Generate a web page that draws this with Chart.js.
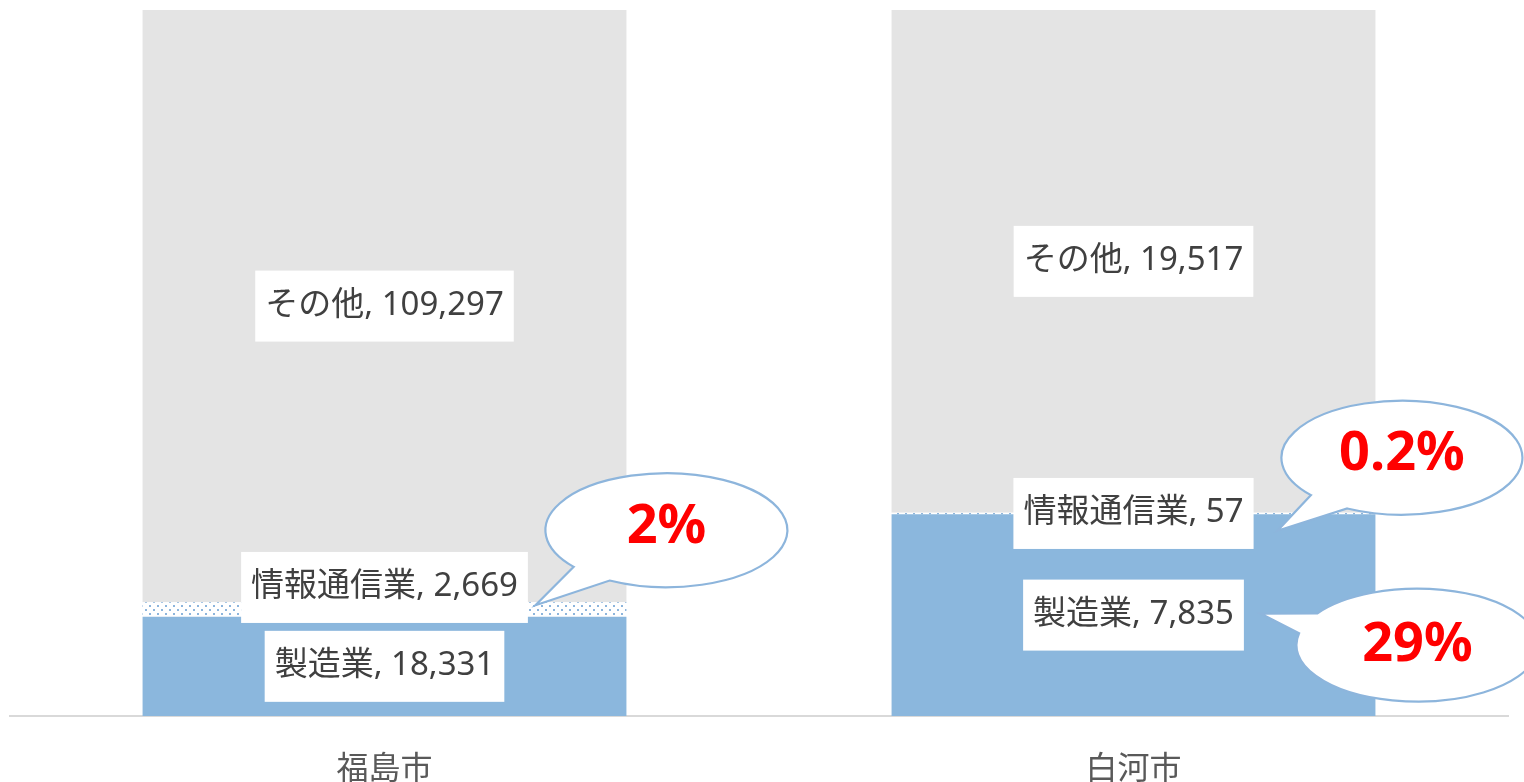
<!DOCTYPE html>
<html lang="ja">
<head>
<meta charset="utf-8">
<title>製造業・情報通信業の構成比</title>
<script src="https://cdn.jsdelivr.net/npm/chart.js@4.4.0/dist/chart.umd.min.js"></script>
<style>
    html, body { margin: 0; padding: 0; background: #ffffff; overflow: hidden; }
    #wrap { width: 1524px; height: 782px; }
</style>
</head>
<body>
<div id="wrap"><canvas id="chart" width="1524" height="782"></canvas></div>
<script>
    // Data
    var cities = ["福島市", "白河市"];
    var seriesNames = ["製造業", "情報通信業", "その他"];
    var manufacturing = [18331, 7835];
    var ict = [2669, 57];
    var others = [109297, 19517];
    var calloutTexts = ["2%", "0.2%", "29%"];

    var BLUE = "#8bb7dd";
    var GRAY = "#e4e4e4";
    var LINE = "#8db5dc";
    var LABEL_FONT = '33px "Noto Sans", "Noto Sans CJK JP", sans-serif';

    var totals = cities.map(function (c, i) {
        return manufacturing[i] + ict[i] + others[i];
    });
    function share(arr) {
        return arr.map(function (v, i) { return v / totals[i] * 100; });
    }

    // dotted fill for 情報通信業
    function dotPattern() {
        var p = document.createElement("canvas");
        p.width = 8;
        p.height = 8;
        var c = p.getContext("2d");
        c.fillStyle = "#ffffff";
        c.fillRect(0, 0, 8, 8);
        c.fillStyle = LINE;
        c.fillRect(1, 1, 2, 2);
        c.fillRect(5, 5, 2, 2);
        return c.createPattern(p, "repeat");
    }

    // Value labels in white boxes
    var labelPlugin = {
        id: "boxLabels",
        afterDatasetsDraw: function (chart) {
            var ctx = chart.ctx;
            ctx.save();
            ctx.font = LABEL_FONT;
            ctx.textAlign = "center";
            ctx.textBaseline = "alphabetic";
            chart.data.datasets.forEach(function (ds, di) {
                var meta = chart.getDatasetMeta(di);
                meta.data.forEach(function (el, i) {
                    var cy = (el.y + el.base) / 2;
                    // 福島市の情報通信業は少し上へずらす
                    if (di === 1 && i === 0) cy -= 22;
                    var txt = ds.label + ", " + ds.raw[i].toLocaleString("en-US");
                    var w = ctx.measureText(txt).width + 20;
                    var h = 71;
                    ctx.fillStyle = "#ffffff";
                    ctx.fillRect(el.x - w / 2, cy - h / 2, w, h);
                    ctx.fillStyle = "#404040";
                    ctx.fillText(txt, el.x, cy + 9);
                });
            });
            ctx.restore();
        }
    };

    // Speech bubbles with the shares
    var calloutSpecs = [
        {ds: 1, idx: 0, edge: "top", tip: [-91, 3], c: [40, -72], r: [121, 57], a: [118, 140], ty: 12.5},
        {ds: 1, idx: 1, edge: "top", tip: [-98, 18], c: [26.5, -55], r: [120.5, 57], a: [117, 139], ty: 12},
        {ds: 0, idx: 1, edge: "mid", tip: [-115, -1.5], c: [42, 30], r: [121, 56.5], a: [192, 214], ty: 15.5}
    ];
    var calloutPlugin = {
        id: "callouts",
        afterDraw: function (chart) {
            var ctx = chart.ctx;
            ctx.save();
            calloutSpecs.forEach(function (s, k) {
                var el = chart.getDatasetMeta(s.ds).data[s.idx];
                var right = el.x + el.width / 2;
                var refY = s.edge === "top" ? el.y : (el.y + el.base) / 2;
                var tx = right + s.tip[0], ty = refY + s.tip[1];
                var cx = right + s.c[0], cy = refY + s.c[1];
                var a1 = s.a[0] * Math.PI / 180, a2 = s.a[1] * Math.PI / 180;
                ctx.beginPath();
                ctx.moveTo(tx, ty);
                ctx.lineTo(cx + s.r[0] * Math.cos(a1), cy + s.r[1] * Math.sin(a1));
                ctx.ellipse(cx, cy, s.r[0], s.r[1], 0, a1, a2, true);
                ctx.closePath();
                ctx.fillStyle = "#ffffff";
                ctx.fill();
                ctx.lineWidth = 2.2;
                ctx.strokeStyle = LINE;
                ctx.stroke();
                ctx.fillStyle = "#ff0000";
                ctx.font = 'bold 54px "Noto Sans", sans-serif';
                ctx.textAlign = "center";
                ctx.textBaseline = "alphabetic";
                ctx.fillText(calloutTexts[k], cx, cy + s.ty);
            });
            ctx.restore();
        }
    };

    var ctx = document.getElementById("chart").getContext("2d");
    var myChart = new Chart(ctx, {
        type: "bar",
        data: {
            labels: cities,
            datasets: [{
                    label: seriesNames[0],
                    data: share(manufacturing),
                    raw: manufacturing,
                    backgroundColor: BLUE
                },
                {
                    label: seriesNames[1],
                    data: share(ict),
                    raw: ict,
                    backgroundColor: dotPattern()
                },
                {
                    label: seriesNames[2],
                    data: share(others),
                    raw: others,
                    backgroundColor: GRAY
                }
            ]
        },
        options: {
            responsive: false,
            animation: false,
            devicePixelRatio: 1,
            categoryPercentage: 0.646,
            barPercentage: 1,
            layout: {
                padding: {left: 10, right: 16, top: 10, bottom: 0}
            },
            plugins: {
                legend: {display: false},
                tooltip: {enabled: false}
            },
            scales: {
                x: {
                    stacked: true,
                    grid: {display: false, drawTicks: false},
                    border: {display: true, color: "#d9d9d9", width: 2},
                    ticks: {
                        color: "#595959",
                        padding: 32,
                        font: {family: '"Noto Sans CJK JP", sans-serif', size: 32}
                    },
                    afterFit: function (scale) { scale.height = 66; }
                },
                y: {
                    stacked: true,
                    display: false,
                    min: 0,
                    max: 100
                }
            }
        },
        plugins: [labelPlugin, calloutPlugin]
    });
</script>
</body>
</html>
